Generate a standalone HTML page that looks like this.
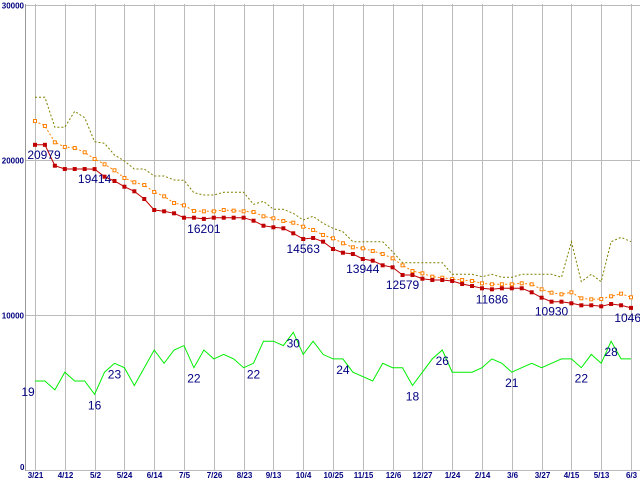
<!DOCTYPE html>
<html><head><meta charset="utf-8"><style>
html,body{margin:0;padding:0;background:#fff;width:640px;height:480px;overflow:hidden}
svg{display:block;font-family:"Liberation Sans",sans-serif}
</style></head><body>
<svg id="chart" width="640" height="480"></svg>
<script>
const xLabels=["3/21","4/12","5/2","5/24","6/14","7/5","7/26","8/23","9/13","10/4","10/25","11/15","12/6","12/27","1/24","2/14","3/6","3/27","4/15","5/13","6/3"];
const yTicks=[0,10000,20000,30000];
const priceRed=[20979,20979,19632,19419,19419,19419,19414,18923,18645,18277,17981,17484,16774,16690,16561,16277,16277,16201,16277,16277,16277,16277,16084,15761,15658,15594,15271,14903,14968,
14731,14258,14019,13935,13613,13503,13206,13077,12581,12581,12342,12258,12258,12194,12000,11871,11723,11658,11723,11723,11723,11465,11116,10858,10858,10755,10626,10626,10561,10710,10626,10460];
const avgOrange=[22516,22194,21140,20839,20774,20497,20065,19723,19335,18839,18561,18387,17935,17658,17226,17077,16710,16690,16690,16774,16731,16690,16645,16368,16239,16065,15955,15697,15484,
15161,14948,14626,14368,14303,14129,13935,13658,13206,12839,12690,12473,12406,12323,12258,12194,12045,11981,11981,11981,12045,11981,11658,11439,11335,11465,11077,11013,11032,11206,11374,11142];
const highOlive=[24045,24045,22110,22110,23142,22729,21181,21077,20323,19935,19419,19419,18968,18968,18710,18690,17890,17742,17742,17916,17916,17916,17142,17335,16819,16819,16561,16129,16368,
15916,15594,15374,14729,14729,14729,14729,14084,13374,13374,13374,13374,13374,12626,12626,12626,12471,12626,12432,12432,12626,12626,12626,12626,12432,14729,12148,12626,12148,14729,15013,14729];
const countGreen=[19,19,17,21,19,19,16,21,23,22,18,22,26,23,26,27,22,26,24,25,24,22,23,28,28,27,30,25,28,25,24,24,21,20,19,23,22,22,18,21,24,26,21,21,21,22,24,23,21,22,23,22,23,24,24,22,25,23,28,24,24];
const redLabelIdx=[0,6,17,27,33,37,46,52,60];
const redLabelText=[20979,19414,16201,14563,13944,12579,11686,10930,10460];
const greenLabelIdx=[0,6,8,16,22,26,31,38,41,48,55,58];
const greenLabelText=[19,16,23,22,22,30,24,18,26,21,22,28];

const NS="http://www.w3.org/2000/svg";
const svg=document.getElementById('chart');
const X0=35,DX=(631-35)/60;
function xs(i){return X0+i*DX;}
function yp(v){return 470-v*0.0155;}
function yg(v){return 465.2-v*4.43;}
function mk(tag,attrs,parent){const e=document.createElementNS(NS,tag);for(const k in attrs)e.setAttribute(k,attrs[k]);(parent||svg).appendChild(e);return e;}

const grid=mk('g',{});


yTicks.forEach(v=>{const y=Math.round(yp(v))+0.5;const l=mk('line',{x1:25,x2:640,y1:y,y2:y,stroke:'#bbb','stroke-width':1},grid);


if(v>0){const t=mk('text',{x:24,y:y+3,'text-anchor':'end','font-size':8,'font-weight':'bold',fill:'#000080'});t.textContent=v;

}});
const z=mk('text',{x:20,y:470,'font-size':8,'font-weight':'bold',fill:'#000080'});z.textContent='0';


xLabels.forEach((s,k)=>{const x=Math.round(xs(k*3))+0.5;const l=mk('line',{x1:x,x2:x,y1:4,y2:471,stroke:'#bbb','stroke-width':1},grid);


const t=mk('text',{x:x,y:478,'text-anchor':'middle','font-size':8,'font-weight':'bold',fill:'#000080'});t.textContent=s;

});
const ax=mk('line',{x1:25.5,x2:25.5,y1:4,y2:471,stroke:'#999'});



function line(arr,fy,color,dash,name){const p=mk('polyline',{points:arr.map((v,i)=>xs(i).toFixed(1)+','+fy(v).toFixed(1)).join(' '),fill:'none',stroke:color,'stroke-width':1,'stroke-dasharray':dash||'none'});

}
line(highOlive,yp,'#808000','2,2','high-line');
line(avgOrange,yp,'#ff8000','2,2','average-line');
avgOrange.forEach((v,i)=>{const r=mk('rect',{x:xs(i)-1.5,y:yp(v)-1.5,width:3,height:3,fill:'#fff',stroke:'#ff8000','stroke-width':1});

});
line(priceRed,yp,'#c00000',null,'price-line');
priceRed.forEach((v,i)=>{const r=mk('rect',{x:xs(i)-2,y:yp(v)-2,width:4,height:4,fill:'#c00000'});

});
line(countGreen,yg,'#00ee00',null,'count-line');

redLabelIdx.forEach((i,k)=>{const t=mk('text',{x:xs(i)+(i===0?9:0),y:yp(priceRed[i])+14,'text-anchor':'middle','font-size':12,fill:'#000080'});t.textContent=redLabelText[k];

});
greenLabelIdx.forEach((i,k)=>{const v=countGreen[i];
const t=mk('text',{x:xs(i)-(i===0?7:0),y:yg(v)+15,'text-anchor':'middle','font-size':12,fill:'#000080'});t.textContent=greenLabelText[k];

});
</script>
</body></html>
